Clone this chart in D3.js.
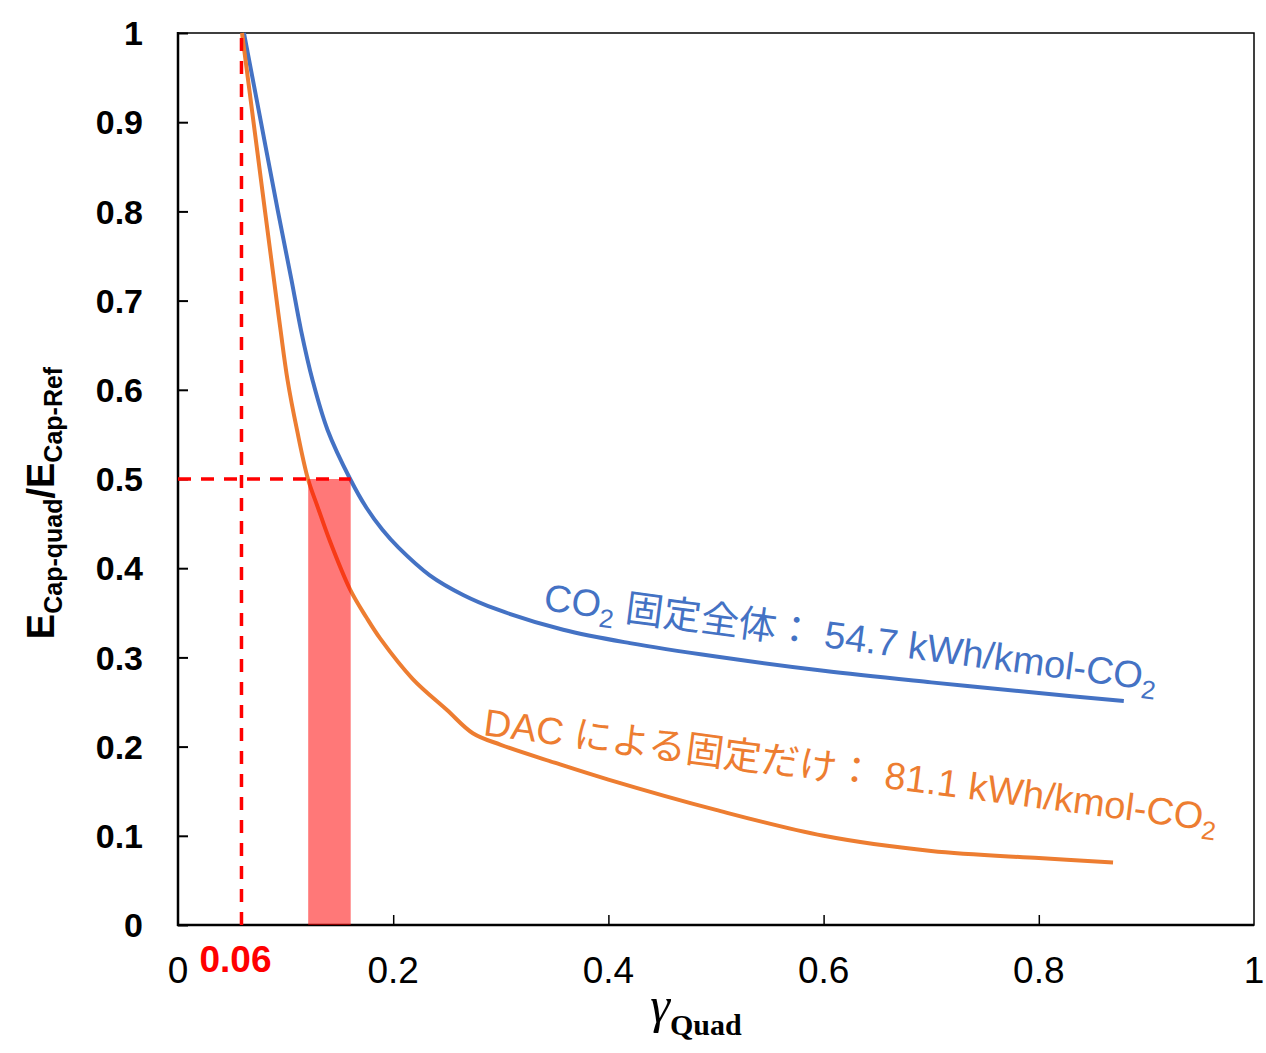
<!DOCTYPE html>
<html>
<head>
<meta charset="utf-8">
<script src="https://cdn.jsdelivr.net/npm/d3@7"></script>
<style>
  body { margin: 0; background: #fff; }
  svg { display: block; }
</style>
</head>
<body>
<svg id="chart" width="1266" height="1053"></svg>
<script>
// values
const totalX = [0.0613, 0.0771, 0.0929, 0.1055, 0.1143, 0.125, 0.139, 0.160, 0.175, 0.190, 0.205, 0.234, 0.265, 0.296, 0.358, 0.420, 0.500, 0.600, 0.700, 0.800, 0.879];
const totalY = [1.0, 0.9, 0.8, 0.723, 0.667, 0.611, 0.555, 0.5, 0.468, 0.443, 0.423, 0.392, 0.370, 0.354, 0.331, 0.316, 0.301, 0.285, 0.272, 0.260, 0.251];
const dacX = [0.0595, 0.0702, 0.0809, 0.0892, 0.0953, 0.1018, 0.1106, 0.1208, 0.130, 0.141, 0.160, 0.175, 0.188, 0.218, 0.250, 0.274, 0.300, 0.350, 0.400, 0.500, 0.600, 0.700, 0.800, 0.869];
const dacY = [1.0, 0.9, 0.8, 0.723, 0.667, 0.611, 0.555, 0.5, 0.468, 0.431, 0.376, 0.345, 0.321, 0.276, 0.241, 0.215, 0.202, 0.182, 0.163, 0.129, 0.100, 0.083, 0.075, 0.070];

const xTicks = [0, 0.2, 0.4, 0.6, 0.8, 1];
const yTicks = [0, 0.1, 0.2, 0.3, 0.4, 0.5, 0.6, 0.7, 0.8, 0.9, 1];

const markX = 0.059;           // vertical dashed line
const halfY = 0.5;             // horizontal dashed line
const bandX = [0.121, 0.1605]; // shaded band

const svg = d3.select("#chart");
const pLeft = 178, pTop = 33, pRight = 1254, pBottom = 925;

const x = d3.scaleLinear().domain([0, 1]).range([pLeft, pRight]);
const y = d3.scaleLinear().domain([0, 1]).range([pBottom, pTop]);

const BLUE = "#4472C4", ORANGE = "#ED7D31", RED = "#FF0000";

// frame
svg.append("rect")
  .attr("x", pLeft).attr("y", pTop)
  .attr("width", pRight - pLeft).attr("height", pBottom - pTop)
  .attr("fill", "none").attr("stroke", "#000").attr("stroke-width", 1.5);
svg.append("line").attr("x1", pLeft).attr("x2", pLeft).attr("y1", pTop - 1).attr("y2", pBottom + 1)
  .attr("stroke", "#000").attr("stroke-width", 2.5);
svg.append("line").attr("x1", pLeft - 1).attr("x2", pRight).attr("y1", pBottom).attr("y2", pBottom)
  .attr("stroke", "#000").attr("stroke-width", 2.5);

// ticks (inward)
svg.append("g").attr("transform", `translate(${pLeft},0)`)
  .call(d3.axisRight(y).tickValues(yTicks).tickSize(10).tickFormat(""))
  .call(g => g.select(".domain").remove())
  .call(g => g.selectAll("line").attr("stroke-width", 2));
svg.append("g").attr("transform", `translate(0,${pBottom})`)
  .call(d3.axisTop(x).tickValues(xTicks.slice(1, -1)).tickSize(10).tickFormat(""))
  .call(g => g.select(".domain").remove())
  .call(g => g.selectAll("line").attr("stroke-width", 1.5));

// tick labels
svg.append("g").selectAll("text").data(yTicks).join("text")
  .attr("x", 143).attr("y", d => y(d)).attr("dy", "0.36em")
  .attr("text-anchor", "end")
  .attr("font-family", "Liberation Sans, Arial, sans-serif")
  .attr("font-weight", "bold").attr("font-size", 34)
  .text(d => d3.format("~g")(d));
svg.append("g").selectAll("text").data(xTicks).join("text")
  .attr("x", d => x(d)).attr("y", 983)
  .attr("text-anchor", "middle")
  .attr("font-family", "Liberation Sans, Arial, sans-serif")
  .attr("font-size", 37)
  .text(d => d3.format("~g")(d));
svg.append("text")
  .attr("x", x(markX) - 6).attr("y", 972)
  .attr("text-anchor", "middle")
  .attr("font-family", "Liberation Sans, Arial, sans-serif")
  .attr("font-weight", "bold").attr("font-size", 37)
  .attr("fill", RED)
  .text("0.06");

// curves
const line = d3.line().x(d => x(d[0])).y(d => y(d[1])).curve(d3.curveCatmullRom.alpha(0.5));
svg.append("path")
  .attr("d", line(d3.zip(totalX, totalY)))
  .attr("fill", "none").attr("stroke", BLUE).attr("stroke-width", 4);
svg.append("path")
  .attr("d", line(d3.zip(dacX, dacY)))
  .attr("fill", "none").attr("stroke", ORANGE).attr("stroke-width", 4);

// guides
svg.append("line")
  .attr("x1", x(markX)).attr("x2", x(markX))
  .attr("y1", y(0)).attr("y2", y(1))
  .attr("stroke", RED).attr("stroke-width", 3.5).attr("stroke-dasharray", "13,10");
svg.append("line")
  .attr("x1", x(0)).attr("x2", x(bandX[1]))
  .attr("y1", y(halfY)).attr("y2", y(halfY))
  .attr("stroke", RED).attr("stroke-width", 3.5).attr("stroke-dasharray", "13,10");
svg.append("rect")
  .attr("x", x(bandX[0])).attr("y", y(halfY))
  .attr("width", x(bandX[1]) - x(bandX[0]))
  .attr("height", y(0) - y(halfY))
  .attr("fill", RED).attr("fill-opacity", 0.53);

// annotations
const annFont = "Liberation Sans, Arial, 'Noto Sans CJK JP', sans-serif";
function annotate(px, py, parts, color) {
  const t = svg.append("text")
    .attr("transform", `translate(${x(px)},${y(py)}) rotate(7.5)`)
    .attr("font-family", annFont).attr("font-size", 38)
    .attr("fill", color);
  parts.forEach(([s, sub], i) => {
    const sp = t.append("tspan").text(s);
    if (sub) sp.attr("font-size", 26).attr("dy", 9);
    else if (i > 0) sp.attr("dy", -9);
  });
}
annotate(0.339, 0.353, [["CO"], ["2", true], [" 固定全体： 54.7 kWh/kmol-CO"], ["2", true]], BLUE);
annotate(0.283, 0.213, [["DAC による固定だけ： 81.1 kWh/kmol-CO"], ["2", true]], ORANGE);

// axis titles
const yt = svg.append("text")
  .attr("transform", `translate(54,503) rotate(-90)`)
  .attr("text-anchor", "middle")
  .attr("font-family", "Liberation Sans, Arial, sans-serif")
  .attr("font-weight", "bold").attr("font-size", 38);
yt.append("tspan").text("E");
yt.append("tspan").attr("font-size", 25).attr("dy", 8).text("Cap-quad");
yt.append("tspan").attr("dy", -8).text("/E");
yt.append("tspan").attr("font-size", 25).attr("dy", 8).text("Cap-Ref");

const xt = svg.append("text")
  .attr("x", 696).attr("y", 1022)
  .attr("text-anchor", "middle")
  .attr("font-family", "Liberation Serif, 'Times New Roman', serif");
xt.append("tspan").attr("font-style", "italic").attr("font-size", 50).text("γ");
xt.append("tspan").attr("font-weight", "bold").attr("font-size", 30).attr("dy", 13).text("Quad");
</script>
</body>
</html>
